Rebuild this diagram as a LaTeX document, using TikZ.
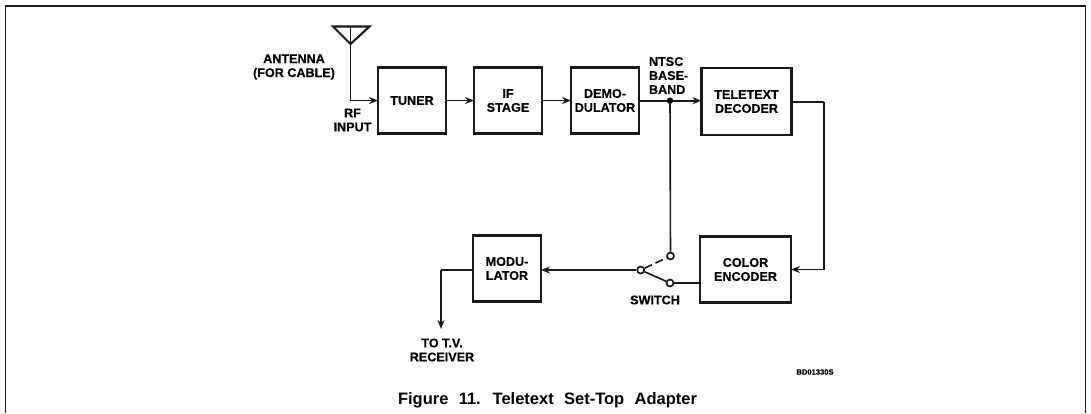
\documentclass[tikz,border=0pt]{standalone}
\usepackage{fontspec}
\setmainfont{Liberation Sans}[BoldFont={Liberation Sans Bold},BoldFeatures={FakeBold=0.4}]
\newfontfamily\capfont{Liberation Sans Bold}[WordSpace=2.25]
\usetikzlibrary{arrows.meta}
\tikzset{
  x=1pt,y=-1pt,
  lbl/.style={font=\fontsize{12.6}{14}\selectfont\bfseries,inner sep=0pt,outer sep=0pt,align=center},
  blockbox/.style={lbl,draw=black!90,line width=2.6pt,minimum width=#1,minimum height=66pt},
  blockbox/.default=68pt,
  wire/.style={draw=black!90,line width=1.6pt},
  flow/.style={wire,-{Stealth[length=9pt,width=7pt]}},
  contact/.style={circle,draw=black!90,line width=1.7pt,fill=white,minimum size=7pt,inner sep=0pt},
  dotnode/.style={circle,fill=black,minimum size=6.5pt,inner sep=0pt}
}
\begin{document}
\begin{tikzpicture}
\useasboundingbox (0,0) rectangle (1091,413);
% frame
\draw[draw=black!90,line width=1.6pt] (5.5,413) -- (5.5,6) -- (1085.5,6) -- (1085.5,413);
% blocks
\node[blockbox] (tuner) at (412,100.5) {TUNER};
\node[blockbox] (ifs) at (508,100.5) {IF\\STAGE};
\node[blockbox] (dem) at (605,100.5) {DEMO-\\DULATOR};
\node[blockbox=90pt,minimum height=67pt] (tel) at (746.5,101.5) {TELETEXT\\DECODER};
\node[blockbox=91pt] (enc) at (745.5,269.5) {COLOR\\ENCODER};
\node[blockbox] (mod) at (507,268.5) {MODU-\\LATOR};
% labels
\node[lbl] (lant) at (294,67) {ANTENNA\\(FOR CABLE)};
\node[lbl] (lrf) at (352.5,120) {RF\\INPUT};
\node[lbl,align=left,anchor=west] (lntsc) at (649,75.5) {NTSC\\BASE-\\BAND};
\node[lbl] (lsw) at (655,300) {SWITCH};
\node[lbl] (ltv) at (442,350) {TO T.V.\\RECEIVER};
\node[inner sep=0pt,font=\fontsize{7.6}{9}\selectfont\bfseries] (lbd) at (815,372) {BD01330S};
\node[inner sep=0pt,font=\fontsize{16.5}{18}\selectfont\capfont] (cap) at (547.5,400) {Figure 11. Teletext Set-Top Adapter};
% antenna
\coordinate (aL) at (333,26.5);
\coordinate (aR) at (369.5,26.5);
\coordinate (aA) at (350.5,44);
\draw[draw=black!90,line width=2.1pt,line join=miter] (aL) -- (aR) -- (aA) -- cycle;
\draw[wire,line width=.8pt] (350.5,26.5) -- (aA);
\draw[flow] (aA) |- (tuner.west);
% chain
\draw[flow] (tuner) -- (ifs);
\draw[flow] (ifs) -- (dem);
\node[dotnode] (j) at (670,100.7) {};
\draw[wire] (dem.east |- j) -- (j);
\draw[flow] (j) -- (j -| tel.west);
% right loop
\coordinate (rc) at (824,102);
\draw[wire] (tel.east |- rc) -- (rc);
\draw[flow] (rc) |- (enc.east);
% switch
\node[contact] (up) at (670.5,256) {};
\node[contact] (lo) at (670,283) {};
\node[contact] (pole) at (640.7,270) {};
\draw[wire] (j) -- (up);
\draw[wire] (lo) -- (lo -| enc.west);
\draw[wire] (pole) -- (lo);
\draw[wire,dash pattern=on 8pt off 4pt] (pole) -- (up);
\draw[flow] (pole) -- (pole -| mod.east);
% output
\coordinate (oc) at (441,270);
\coordinate (oe) at (441,329);
\draw[wire] (mod.west |- oc) -- (oc);
\draw[flow] (oc) -- (oe);
\end{tikzpicture}
\end{document}
